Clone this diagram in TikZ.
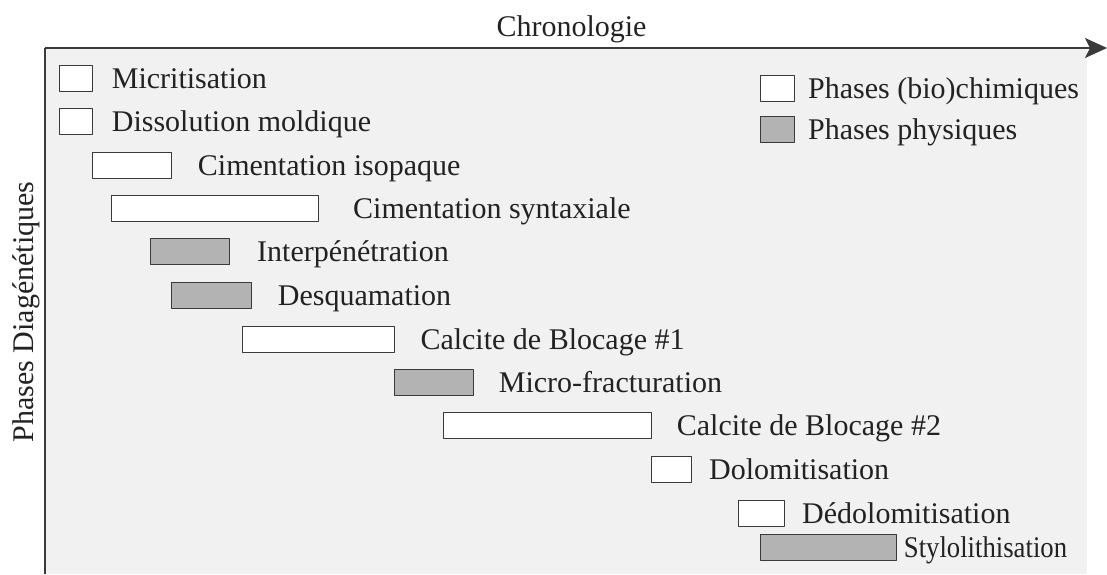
\documentclass[tikz,border=0pt]{standalone}
\usepackage{fontspec}
\setmainfont{Liberation Serif}
\usetikzlibrary{positioning,arrows.meta}
\definecolor{fondc}{HTML}{F1F1F1}
\definecolor{physc}{HTML}{B3B3B3}
\definecolor{bordc}{HTML}{3A3A3A}
\definecolor{textc}{HTML}{222222}
\tikzset{
  bar/.style={draw=bordc, line width=1pt, inner sep=0pt, anchor=north west, minimum height=26pt},
  chim/.style={bar, fill=white},
  phys/.style={bar, fill=physc},
  lbl/.style={inner sep=0pt, text height=20pt, text depth=0pt, anchor=west, text=textc},
}
\begin{document}
\begin{tikzpicture}[x=1pt,y=-1pt, font=\fontsize{30}{36}\selectfont, line join=round]
	\useasboundingbox (0,0) rectangle (1107,574);
	\fill[fondc] (45,48) rectangle (1087,574);
	% axes
	\coordinate (o) at (45,48);
	\coordinate (xend) at (1107,48);
	\coordinate (yend) at (45,574);
	\draw[line width=1.5pt, draw=bordc, -{Stealth[length=22pt,width=20pt,inset=5pt]}] (o) -- (xend);
	\draw[line width=1.5pt, draw=bordc] (o) -- (yend);
	\node[anchor=base, text=textc] (chrono) at (571.5,36) {Chronologie};
	\node[anchor=base, rotate=90, text=textc] (phdiag) at (33,312) {Phases Diagénétiques};
	% legende
	\node[chim, minimum width=34pt] (legc) at (760,75) {};
	\node[lbl, right=13pt of legc] (legct) {Phases (bio)chimiques};
	\node[phys, minimum width=34pt] (legp) at (760,115.7) {};
	\node[lbl, right=13pt of legp] (legpt) {Phases physiques};
	% phases
	\node[chim, minimum width=32.4pt] (micr) at (59.3,65) {};
	\node[lbl, right=19pt of micr] (micrt) {Micritisation};
	\node[chim, minimum width=32.4pt] (diss) at (59.3,108) {};
	\node[lbl, right=19pt of diss] (disst) {Dissolution moldique};
	\node[chim, minimum width=79pt] (cimi) at (91.7,151.7) {};
	\node[lbl, right=26pt of cimi] (cimit) {Cimentation isopaque};
	\node[chim, minimum width=207pt] (cims) at (111,195) {};
	\node[lbl, right=34pt of cims] (cimst) {Cimentation syntaxiale};
	\node[phys, minimum width=79pt] (inter) at (150,238) {};
	\node[lbl, right=27pt of inter] (intert) {Interpénétration};
	\node[phys, minimum width=79.7pt] (desq) at (171,282) {};
	\node[lbl, right=26pt of desq] (desqt) {Desquamation};
	\node[chim, minimum width=152pt] (cbun) at (242.3,325.7) {};
	\node[lbl, right=25pt of cbun] (cbunt) {Calcite de Blocage \#1};
	\node[phys, minimum width=78.7pt] (micro) at (394,369) {};
	\node[lbl, right=25pt of micro] (microt) {Micro-fracturation};
	\node[chim, minimum width=207.4pt] (cbdeux) at (443.3,412.3) {};
	\node[lbl, right=25pt of cbdeux] (cbdeuxt) {Calcite de Blocage \#2};
	\node[chim, minimum width=40pt] (dolo) at (651,455.7) {};
	\node[lbl, right=17pt of dolo] (dolot) {Dolomitisation};
	\node[chim, minimum width=46.3pt] (dedolo) at (737.7,500) {};
	\node[lbl, right=17pt of dedolo] (dedolot) {Dédolomitisation};
	\node[phys, minimum width=135.7pt] (stylo) at (760,534.3) {};
	\node[lbl, right=7pt of stylo] (stylot) {\scalebox{0.89}[1]{Stylolithisation}};
\end{tikzpicture}
\end{document}
